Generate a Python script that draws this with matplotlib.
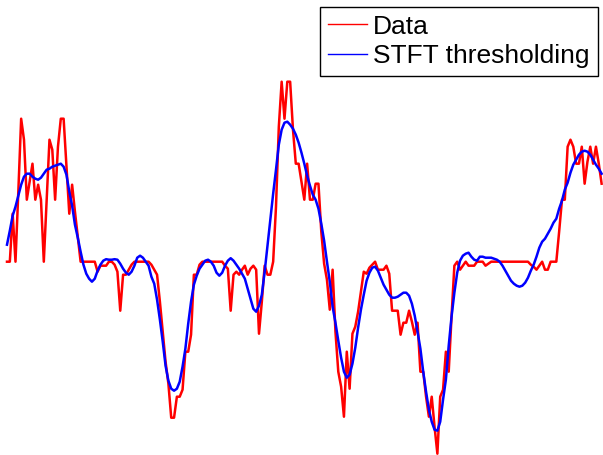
import numpy as np
import matplotlib
matplotlib.use("Agg")
import matplotlib.pyplot as plt

plt.rcParams['font.family'] = ['Liberation Sans', 'DejaVu Sans']

# Noisy observed signal (one value per sample)
data = [
    0, 0, 4.8, 0, 7.0, 14.3, 12.2, 6.2, 8.0, 9.8,
    6.2, 7.7, 6.2, 0, 6.2, 12.2, 11.2, 6.2, 11.5, 14.3,
    14.3, 9.6, 4.8, 7.7, 5.0, 2.5, 0, 0, 0, 0,
    0, 0, -1.0, -0.4, -0.4, -0.4, 0, 0, -0.3, -1.0,
    -4.9, -1.3, -1.3, -0.8, -0.3, 0, 0, 0, 0, 0,
    0, -0.3, -0.8, -1.3, -4.0, -7.0, -10.0, -12.2, -15.6, -15.6,
    -13.5, -13.5, -12.8, -9.0, -9.0, -7.3, -1.3, -1.3, -0.3, 0,
    0, 0, 0, 0, 0, 0, 0, -0.4, -0.7, -4.9,
    -1.3, -1.0, -1.3, -0.8, -0.4, -1.3, -0.7, -0.4, -0.8, -7.2,
    -4.0, -0.4, -1.3, -1.3, 0, 5.5, 13.5, 18.0, 14.3, 18.0,
    18.0, 13.2, 9.8, 9.8, 8.0, 6.2, 9.8, 6.2, 6.2, 7.8,
    7.8, 3.0, -0.2, -1.8, -4.8, -0.8, -7.0, -11.0, -12.5, -15.5,
    -9.0, -12.7, -7.2, -6.5, -5.0, -3.0, -1.0, -1.2, -0.6, -0.3,
    0, -0.8, -0.8, -0.8, -0.4, -1.2, -4.9, -4.9, -4.9, -7.3,
    -6.1, -6.1, -4.9, -6.0, -7.3, -6.1, -11.0, -11.0, -13.5, -15.5,
    -13.5, -16.5, -19.2, -13.5, -12.8, -9.0, -11.0, -5.5, -0.4, 0,
    -0.8, -0.4, 0, -0.4, -0.4, -0.4, 0, 0, 0, -0.4,
    -0.2, 0, 0, 0, 0, 0, 0, 0, 0, 0,
    0, 0, 0, 0, 0, -0.3, -0.5, -0.8, -0.4, 0,
    -0.8, -0.8, 0, 0, 0, 3.0, 6.2, 6.2, 11.5, 12.2,
    11.5, 9.8, 9.8, 11.5, 7.8, 10.0, 11.5, 9.8, 11.5, 9.8,
    7.8,
]

# Denoised estimate obtained by STFT thresholding
stft = [
    1.7, 3.1, 4.6, 5.5, 6.6, 7.7, 8.5, 8.8, 8.8, 8.5,
    8.3, 8.2, 8.4, 8.8, 9.2, 9.3, 9.5, 9.6, 9.7, 9.8,
    9.5, 8.7, 7.0, 5.6, 3.7, 2.4, 1.0, -0.3, -1.2, -1.7,
    -2.0, -1.7, -0.9, -0.3, 0.1, 0.25, 0.2, 0.2, 0.25, 0.2,
    -0.2, -0.7, -1.1, -1.3, -1.0, -0.4, 0.4, 0.6, 0.4, 0.0,
    -0.4, -1.5, -2.2, -3.8, -5.8, -8.0, -10.4, -11.9, -12.7, -12.9,
    -12.7, -12.0, -10.5, -8.7, -6.2, -4.0, -2.3, -1.4, -0.7, -0.3,
    0.1, 0.2, 0.0, -0.4, -1.1, -1.4, -1.1, -0.4, 0.1, 0.35,
    0.1, -0.3, -0.7, -1.2, -1.7, -2.7, -3.7, -4.7, -5.0, -4.4,
    -3.3, -1.0, 1.6, 4.2, 6.8, 9.2, 11.7, 13.2, 13.9, 14.0,
    13.7, 13.3, 12.7, 11.9, 10.9, 9.8, 8.6, 7.6, 6.7, 6.2,
    5.3, 3.8, 2.1, 0.0, -2.0, -4.5, -6.1, -7.9, -9.6, -11.0,
    -11.6, -11.3, -10.2, -8.6, -6.6, -4.8, -3.3, -1.9, -1.1, -0.6,
    -0.5, -0.9, -1.6, -2.3, -2.8, -3.3, -3.6, -3.6, -3.5, -3.3,
    -3.1, -3.1, -3.4, -4.2, -5.4, -7.0, -8.7, -11.0, -13.0, -14.8,
    -16.0, -16.8, -16.9, -16.0, -13.8, -11.8, -8.4, -5.5, -3.1, -1.1,
    0.1, 0.6, 0.8, 0.9, 0.5, 0.2, 0.1, 0.5, 0.5, 0.4,
    0.4, 0.4, 0.3, 0.2, 0.0, -0.4, -0.9, -1.4, -1.9, -2.2,
    -2.4, -2.5, -2.4, -2.1, -1.6, -0.9, -0.3, 0.5, 1.4, 2.0,
    2.3, 2.8, 3.3, 3.9, 4.3, 5.3, 6.1, 7.2, 7.9, 8.9,
    9.7, 10.2, 10.7, 11.0, 11.1, 11.0, 10.7, 10.2, 9.7, 9.3,
    8.8,
]

labels = ["Data", "STFT thresholding"]

t = np.arange(len(data))

fig = plt.figure(figsize=(6.03, 4.55), dpi=100)
ax = fig.add_axes([0, 0, 1, 1])
ax.plot(t, data, color=(1, 0, 0), lw=1.8, label=labels[0])
ax.plot(t, stft, color=(0, 0, 1), lw=1.8, label=labels[1])

ax.set_xlim(-2.47, 210.49)
ax.set_ylim(-19.33, 26.17)
ax.axis('off')

leg = ax.legend(loc='upper right', bbox_to_anchor=(597.5 / 603, 1 - 6.7 / 455),
                bbox_transform=fig.transFigure, fontsize=19,
                frameon=True, fancybox=False, framealpha=1, edgecolor='black',
                handlelength=1.5, handletextpad=0.22, labelspacing=0.2,
                borderpad=0.3, borderaxespad=0)
leg.get_frame().set_linewidth(1.0)
for h in leg.get_lines():
    h.set_linewidth(1.0)

fig.savefig('out.png', dpi=100)
